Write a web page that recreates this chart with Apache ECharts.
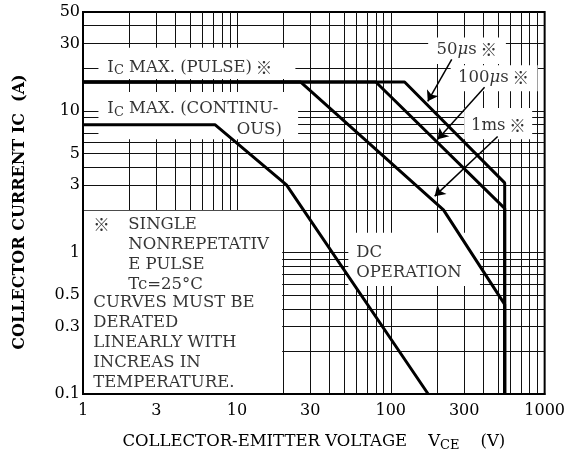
<!DOCTYPE html>
<html><head><meta charset="utf-8">
<script src="https://cdn.jsdelivr.net/npm/echarts@6/dist/echarts.min.js"></script>
<style>html,body{margin:0;padding:0;background:#fff}#c{width:568px;height:457px}</style>
</head><body><div id="c"></div>
<script>
// ---- data ----
const xTickLabels = [1, 3, 10, 30, 100, 300, 1000];
const yTickLabels = [0.1, 0.3, 0.5, 1, 3, 5, 10, 30, 50];
const gridV = [2,3,4,5,6,7,8,9,10,20,30,40,50,60,70,80,90,100,200,300,400,500,600,700,800,900];
const gridI = [0.2,0.3,0.4,0.5,0.6,0.7,0.8,0.9,1,2,3,4,5,6,7,8,9,10,20,30,40];
// DC operation
const dcV = [1, 7.2, 21, 175];
const dcI = [8, 8, 3, 0.1];
// 1 ms pulse
const ms1V = [1, 26, 220, 550, 550];
const ms1I = [16, 16, 2, 0.43, 0.1];
// 100 us pulse
const us100V = [1, 80, 550, 550];
const us100I = [16, 16, 2.05, 0.1];
// 50 us pulse
const us50V = [1, 123, 550, 550];
const us50I = [16, 16, 3.1, 0.1];

// ---- annotation layout (data coordinates) ----
const boxes = [
  [[1.26, 16.8], [24, 28]],
  [[1.26, 6.3], [25, 13.6]],
  [[1, 0.1], [19.7, 1.97]],
  [[53, 0.58], [380, 1.38]],
  [[175, 21.5], [560, 33]],
  [[245, 13.8], [900, 21]],
  [[300, 6.3], [830, 10.5]]
];
const arrows = [
  [[249, 23.1], [174, 11.7]],
  [[407, 14.7], [202, 6.3]],
  [[495, 6.6], [193, 2.5]]
];
const FONT = 'DejaVu Serif';
const FS = 16.5;
const richBase = {
  n: {fontFamily: FONT, fontSize: FS, color: '#000', lineHeight: 20},
  s: {fontFamily: FONT, fontSize: 13, color: '#000', lineHeight: 12, verticalAlign: 'bottom'},
  mu: {fontFamily: FONT, fontSize: FS, fontStyle: 'italic', color: '#000', lineHeight: 20},
  k: {fontFamily: 'Noto Sans CJK JP', fontSize: FS, color: '#000', lineHeight: 20}
};
const titleRich = {
  n: {fontFamily: FONT, fontSize: 16.5, color: '#000', lineHeight: 20},
  s: {fontFamily: FONT, fontSize: 13, color: '#000', lineHeight: 12, verticalAlign: 'bottom'}
};
const labels = [
  {pos: [1.44, 20.3], text: '{n|I}{s|C}{n| MAX. (PULSE)}{k| ※}', align: 'left', va: 'middle'},
  {pos: [1.44, 10.3], text: '{n|I}{s|C}{n| MAX. (CONTINU-}', align: 'left', va: 'middle'},
  {pos: [19.6, 7.4], text: '{n|OUS)}', align: 'right', va: 'middle'},
  {pos: [312, 27.2], text: '{n|50}{mu|μ}{n|s}{k| ※}', align: 'center', va: 'middle'},
  {pos: [465, 17.3], text: '{n|100}{mu|μ}{n|s}{k| ※}', align: 'center', va: 'middle'},
  {pos: [500, 7.9], text: '{n|1ms}{k| ※}', align: 'center', va: 'middle'},
  {pos: [59.6, 0.85], text: '{n|DC}\n{n|OPERATION}', align: 'left', va: 'middle'},
  {pos: [1.166, 1.58], text: '{k|※}', align: 'left', va: 'middle'},
  {pos: [1.97, 1.86], text: '{n|SINGLE}\n{n|NONREPETATIV}\n{n|E PULSE}\n{n|Tc=25°C}', align: 'left', va: 'top'},
  {pos: [1.166, 0.516], text: '{n|CURVES MUST BE}\n{n|DERATED}\n{n|LINEARLY WITH}\n{n|INCREAS IN}\n{n|TEMPERATURE.}', align: 'left', va: 'top'}
];

function nearestLabel(list, v) {
  let best = list[0];
  for (const t of list) if (Math.abs(Math.log(t) - Math.log(v)) < Math.abs(Math.log(best) - Math.log(v))) best = t;
  return String(best);
}
const pairs = (V, I) => V.map((v, i) => [v, I[i]]);
const curve = (name, V, I, extra) => Object.assign({
  type: 'line', name, data: pairs(V, I), symbol: 'none', showSymbol: false,
  lineStyle: {color: '#000', width: 3}, z: 3, animation: false
}, extra || {});

const chart = echarts.init(document.getElementById('c'), null, {renderer: 'canvas'});
chart.setOption({
  animation: false,
  grid: {left: 83, right: 23, top: 12, bottom: 62, show: true, borderColor: '#000', borderWidth: 2, backgroundColor: 'transparent'},
  xAxis: {
    type: 'log', logBase: 10, min: 1, max: 1000, z: 10,
    axisLine: {show: true, onZero: false, lineStyle: {color: '#000', width: 2}},
    axisTick: {show: false}, splitLine: {show: false}, minorSplitLine: {show: false},
    axisLabel: {customValues: xTickLabels, formatter: v => nearestLabel(xTickLabels, v), fontFamily: FONT, fontSize: 16, color: '#000', margin: 9},
    name: '{n|COLLECTOR-EMITTER VOLTAGE    V}{s|CE}{n|    (V)}', nameLocation: 'middle', nameGap: 38,
    nameTextStyle: {rich: titleRich}
  },
  yAxis: {
    type: 'log', logBase: 10, min: 0.1, max: 50, z: 10,
    axisLine: {show: true, onZero: false, lineStyle: {color: '#000', width: 2}},
    axisTick: {show: false}, splitLine: {show: false}, minorSplitLine: {show: false},
    axisLabel: {customValues: yTickLabels, formatter: v => nearestLabel(yTickLabels, v), fontFamily: FONT, fontSize: 16, color: '#000', margin: 3},
    name: 'COLLECTOR CURRENT IC  (A)', nameLocation: 'middle', nameRotate: 90, nameGap: 55,
    nameTextStyle: {fontFamily: FONT, fontSize: 16, fontWeight: 'bold', color: '#000', padding: [0, 18, 0, 0]}
  },
  series: [
    curve('DC', dcV, dcI, {
      markLine: {
        z: 1, silent: true, symbol: ['none', 'none'], label: {show: false}, animation: false,
        lineStyle: {type: 'solid', color: '#111', width: 1},
        data: gridV.map(v => ({xAxis: v})).concat(gridI.map(v => ({yAxis: v})))
      }
    }),
    curve('1ms', ms1V, ms1I, {
      markArea: {
        z: 2, silent: true, animation: false, label: {show: false},
        itemStyle: {color: '#fff', opacity: 1, borderWidth: 0},
        data: boxes.map(b => [{coord: b[0]}, {coord: b[1]}])
      }
    }),
    curve('100us', us100V, us100I),
    curve('50us', us50V, us50I),
    {
      type: 'lines', coordinateSystem: 'cartesian2d', z: 4, animation: false, silent: true,
      symbol: ['none', 'arrow'], symbolSize: 10,
      lineStyle: {color: '#000', width: 1.5, opacity: 1},
      data: arrows.map(a => ({coords: a}))
    },
    {
      type: 'scatter', z: 5, silent: true, symbolSize: 0.1, itemStyle: {color: 'transparent'}, animation: false,
      data: labels.map(l => ({
        value: l.pos,
        label: {show: true, position: 'inside', formatter: l.text, align: l.align, verticalAlign: l.va, rich: richBase, color: '#000'}
      }))
    }
  ]
});
</script></body></html>
